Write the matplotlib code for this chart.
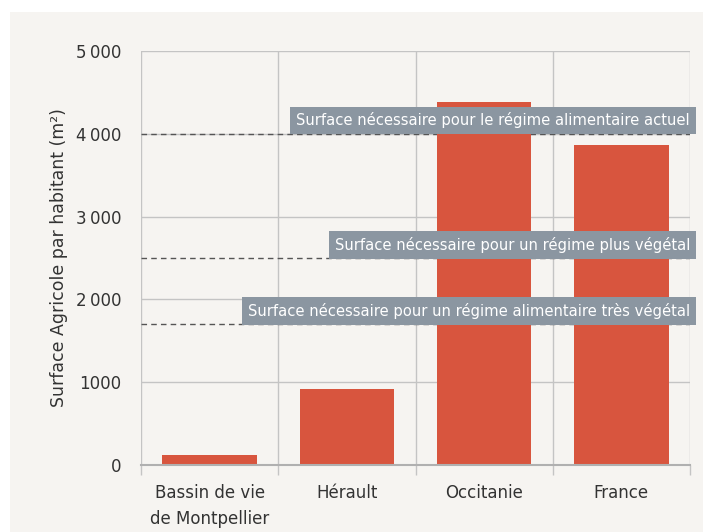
import matplotlib
matplotlib.use("Agg")
import matplotlib.pyplot as plt
from matplotlib.patches import Rectangle

categories = ["Bassin de vie\nde Montpellier", "Hérault", "Occitanie", "France"]
values = [120, 920, 4390, 3860]
ref_values = [4000, 2500, 1700]
ref_labels = ["Surface nécessaire pour le régime alimentaire actuel",
              "Surface nécessaire pour un régime plus végétal",
              "Surface nécessaire pour un régime alimentaire très végétal"]
yticks = [0, 1000, 2000, 3000, 4000, 5000]
ytick_labels = ["0", "1000", "2\u2009000", "3\u2009000", "4\u2009000", "5\u2009000"]
ylabel = "Surface Agricole par habitant (m²)"

plt.rcParams['font.family'] = ['DejaVu Sans']

fig = plt.figure(figsize=(7.03, 5.32), dpi=100)
fig.patch.set_facecolor("white")
bg = Rectangle((10/703, 0), 1 - 10/703, 1 - 12/532, transform=fig.transFigure,
               facecolor="#f6f4f1", edgecolor="none", zorder=-10)
fig.add_artist(bg)

ax = fig.add_axes([141/703, 1 - 465/532, 549/703, 414/532])
ax.set_zorder(1)
ax.set_facecolor("none")
x = list(range(len(categories)))
ax.bar(x, values, width=0.69, color="#d8553e", zorder=3)

ax.set_xlim(-0.5, 3.5)
ax.set_ylim(0, 5000)
ax.set_yticks(yticks)
ax.set_yticklabels(ytick_labels, fontsize=12, color="#333333")
ax.set_xticks(x)
ax.set_xticklabels(categories, fontsize=12, color="#333333", linespacing=1.55)
ax.tick_params(axis="y", length=0, pad=14)
ax.tick_params(axis="x", length=0, pad=14)
ax.set_xticks([-0.5, 0.5, 1.5, 2.5, 3.5], minor=True)
ax.tick_params(axis="x", which="minor", length=7, color="#c4c4c4", width=1)

for y in yticks[1:]:
    ax.axhline(y, color="#c4c4c4", lw=1, zorder=1)
for xv in [-0.5, 0.5, 1.5, 2.5, 3.5]:
    ax.axvline(xv, color="#c4c4c4", lw=1, zorder=1)

for s in ["top", "right", "left"]:
    ax.spines[s].set_visible(False)
ax.spines["bottom"].set_color("#b0b0b0")
ax.spines["bottom"].set_linewidth(1.5)
ax.spines["bottom"].set_zorder(4)

for v, lab in zip(ref_values, ref_labels):
    ax.plot([-0.5, 3.5], [v, v], color="#555555", lw=1, dashes=(4, 3), zorder=2)
    ax.text(3.5, v + 65, lab, ha="right", va="bottom", fontsize=10.6, color="white",
            zorder=5, clip_on=False,
            bbox=dict(boxstyle="square,pad=0.4", facecolor="#8b96a1", edgecolor="none"))

ax.set_ylabel(ylabel, fontsize=12.5, color="#333333", labelpad=6)

fig.savefig("out.png", dpi=100, facecolor=fig.get_facecolor())
